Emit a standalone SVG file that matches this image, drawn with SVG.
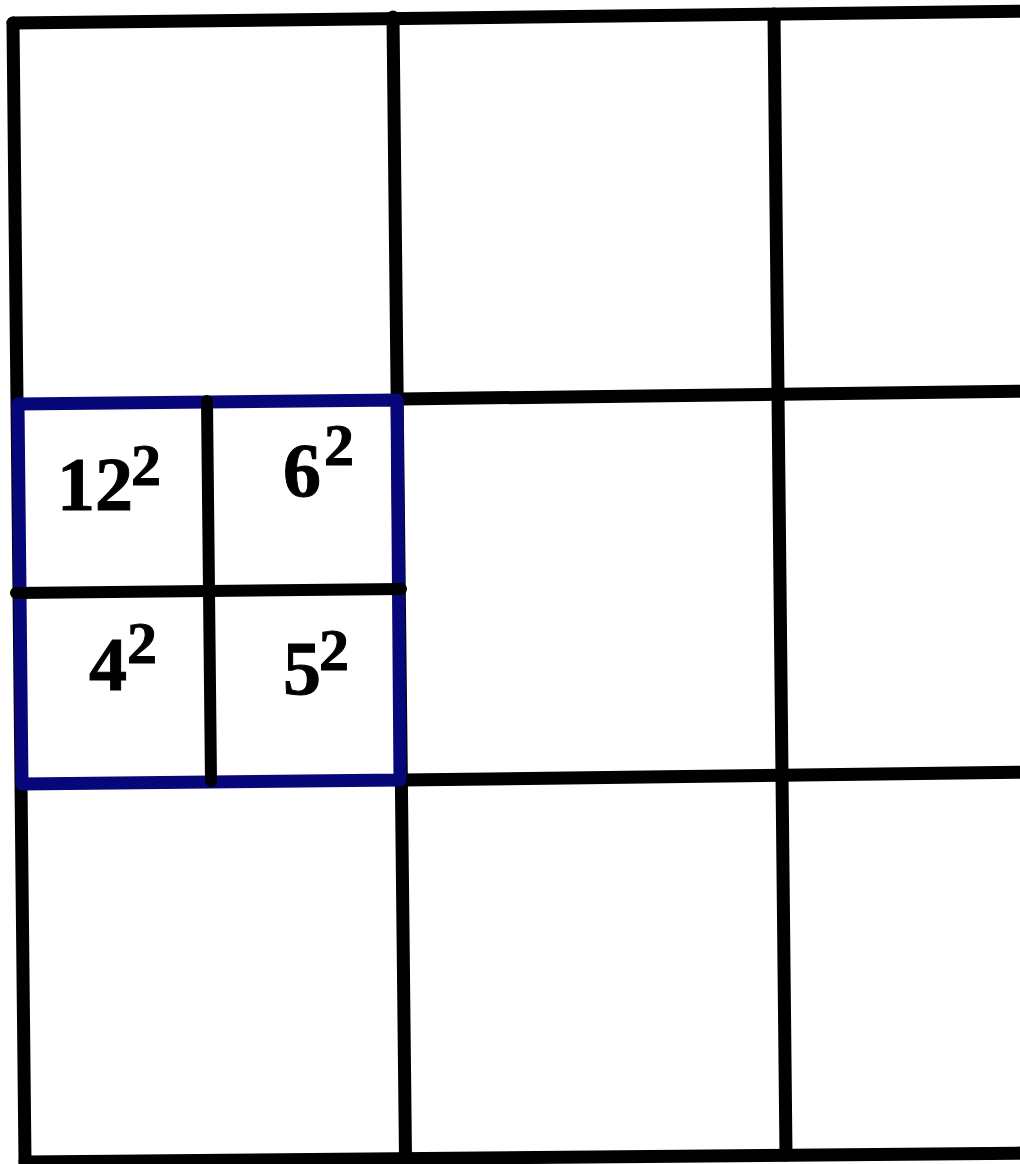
<svg xmlns="http://www.w3.org/2000/svg" width="1020" height="1164" viewBox="0 0 1020 1164">
  <style>
    .grid { stroke: #000; stroke-width: 13; stroke-linecap: round; fill: none; }
    .blue { stroke: #07077a; stroke-width: 13; stroke-linejoin: round; fill: none; }
    .cross { stroke: #000; stroke-width: 12; stroke-linecap: round; fill: none; }
    .num { font-family: "Liberation Serif", "Times New Roman", serif; font-weight: bold; font-size: 76px; fill: #000; stroke: #000; stroke-width: 1; }
    .sup { font-size: 60px; }
  </style>
  <rect width="1020" height="1164" fill="#fff"/>
  <g id="grid">
    <line class="grid" x1="13" y1="23" x2="1034" y2="11"/>
    <line class="grid" x1="13" y1="23" x2="25" y2="1162"/>
    <line class="grid" x1="25" y1="1162" x2="1034" y2="1153"/>
    <line class="grid" x1="393" y1="17" x2="405.5" y2="1158"/>
    <line class="grid" x1="774" y1="14" x2="786" y2="1155"/>
    <line class="grid" x1="400" y1="399" x2="1034" y2="391"/>
    <line class="grid" x1="403" y1="780" x2="1034" y2="772"/>
  </g>
  <g id="blue-square">
    <polygon class="blue" points="18,404 397,400 400,780 22,784"/>
  </g>
  <g id="cross">
    <line class="cross" x1="207" y1="401" x2="211" y2="781"/>
    <line class="cross" x1="16" y1="593" x2="401" y2="589"/>
  </g>
  <g id="cell-12">
    <text class="num" x="57" y="510">12<tspan class="sup" x="131" y="485">2</tspan></text>
  </g>
  <g id="cell-6">
    <text class="num" x="283" y="496">6<tspan class="sup" x="324" y="465">2</tspan></text>
  </g>
  <g id="cell-4">
    <text class="num" x="89" y="690">4<tspan class="sup" x="127" y="663">2</tspan></text>
  </g>
  <g id="cell-5">
    <text class="num" x="283" y="694">5<tspan class="sup" x="319" y="670">2</tspan></text>
  </g>
</svg>
